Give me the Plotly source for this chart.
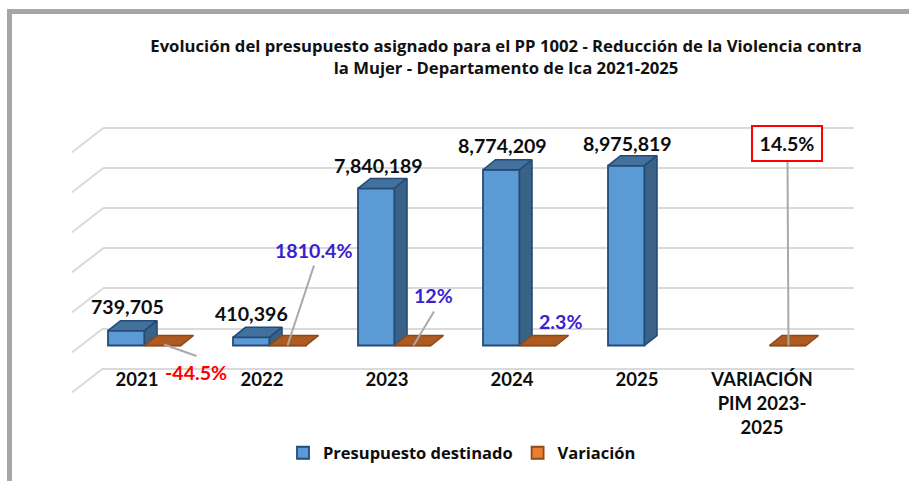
import plotly.graph_objects as go

years = ["2021", "2022", "2023", "2024", "2025", "VARIACIÓN<br>PIM 2023-<br>2025"]
budget = [739705, 410396, 7840189, 8774209, 8975819, None]
variation_pct = [-44.5, 1810.4, 12, 2.3, None, 14.5]
budget_labels = ["739,705", "410,396", "7,840,189", "8,774,209", "8,975,819", None]
variation_labels = ["-44.5%", "1810.4%", "12%", "2.3%", None, "14.5%"]
grid_values = [-2000000, 0, 2000000, 4000000, 6000000, 8000000, 10000000]

W, H = 909, 481
PX_PER_CAT = 125.0
PX_PER_UNIT = 20.03e-6
X0_PX, Y0_PX = 137.0, 345.5          # pixel of category 0 / value 0
GRID_L, GRID_R = 103.0, 854.0

def dx(px): return px / PX_PER_CAT
def dy(px): return px / PX_PER_UNIT

xr = [(GRID_L - X0_PX) / PX_PER_CAT, (GRID_R - X0_PX) / PX_PER_CAT]
yr = [(Y0_PX - H) / PX_PER_UNIT, Y0_PX / PX_PER_UNIT]

BAR_W = dx(36.5)
BAR_OFF = dx(-29)
VAR_OFF = dx(7.5)
DEPTH_X, DEPTH_Y = dx(12.5), dy(10)

idx = list(range(len(years)))
BLUE, BLUE_TOP, BLUE_SIDE, BLUE_LINE = "#5B9BD5", "#41719C", "#3A6186", "#264A78"
ORANGE, PLATE, PLATE_LINE = "#ED7D31", "#AE5A21", "#8C4A1A"
GRID = "#DADADA"
LEADER = "#A9A9A9"
INK = "#0D0D0D"
PCT_BLUE = "#3A1FD0"

fig = go.Figure()

# front faces and legend entries
fig.add_bar(x=idx, y=budget, name="Presupuesto destinado", width=BAR_W, offset=BAR_OFF,
            marker=dict(color=BLUE, line=dict(color=BLUE_LINE, width=1.8)))
fig.add_bar(x=idx, y=variation_pct, name="Variación",
            width=BAR_W, offset=VAR_OFF,
            marker=dict(color=ORANGE, line=dict(color=PLATE_LINE, width=1.8)))

def poly(xs, ys, color, line):
    fig.add_scatter(x=xs, y=ys, mode="lines", fill="toself", fillcolor=color,
                    line=dict(color=line, width=1.6), showlegend=False, hoverinfo="skip")

# depth faces of the budget bars
for i, v in zip(idx, budget):
    if v is None:
        continue
    l = i + BAR_OFF
    r = l + BAR_W
    poly([l, l + DEPTH_X, r + DEPTH_X, r, l], [v, v + DEPTH_Y, v + DEPTH_Y, v, v], BLUE_TOP, BLUE_LINE)
    poly([r, r + DEPTH_X, r + DEPTH_X, r, r], [v, v + DEPTH_Y, DEPTH_Y, 0, v], BLUE_SIDE, BLUE_LINE)

# flat plates of the variation series (percentages are negligible on the amount scale)
for i, v in zip(idx, variation_pct):
    if v is None:
        continue
    l = i + VAR_OFF
    r = l + BAR_W
    poly([l, l + DEPTH_X, r + DEPTH_X, r, l], [v, v + DEPTH_Y, v + DEPTH_Y, v, v], PLATE, PLATE_LINE)

# leader lines: category, x offset px from category, value, y offset px
leaders = [
    (0, 27, 1, 59.5, -10.5),
    (1, 25.5, 0, 52, 80),
    (2, 26.5, 0, 47, 34),
    (5, 26.5, 0, 25.5, 185),
]
for i, a, y1, b, up in leaders:
    fig.add_scatter(x=[i + dx(a), i + dx(b)], y=[dy(y1), dy(up)], mode="lines",
                    line=dict(color=LEADER, width=2), showlegend=False, hoverinfo="skip")

annos = []
def label(i, base, text, dxp, dyp, color, **kw):
    annos.append(dict(x=i, y=base, xref="x", yref="y", text=f"<b>{text}</b>", showarrow=False,
                      xshift=dxp, yshift=dyp, xanchor="center", yanchor="middle",
                      font=dict(family="Lato", size=19.6, color=color), **kw))

# budget labels, relative to the top of each bar
for i, (v, t, o) in enumerate(zip(budget, budget_labels, [(-10, 24), (-10.5, 24), (-9, 23), (-10, 24), (-10, 22)] + [None])):
    if t:
        label(i, v, t, o[0], o[1], INK)
# variation labels, relative to the floor
var_off = [(58.5, -27), (51.5, 95.5), (46, 50), (48, 24), None, (24.5, 202)]
var_col = ["#FF0000", PCT_BLUE, PCT_BLUE, PCT_BLUE, None, INK]
for i, t, o, c in zip(idx, variation_labels, var_off, var_col):
    if not t:
        continue
    extra = {}
    if i == 5:
        extra = dict(bordercolor="#FF0000", borderwidth=2, bgcolor="#FFFFFF", width=66, height=31)
    label(i, 0, t, o[0], o[1], c, **extra)

shapes = [
    dict(type="rect", xref="paper", yref="paper", x0=7/W, x1=12/W, y0=0, y1=1-9/H,
         fillcolor="#A6A6A6", line_width=0),
    dict(type="rect", xref="paper", yref="paper", x0=7/W, x1=1, y0=1-14/H, y1=1-9/H,
         fillcolor="#A6A6A6", line_width=0),
]
# side-wall gridlines
for g in grid_values:
    shapes.append(dict(type="line", xref="paper", yref="y", layer="below",
                       x0=GRID_L/W, x1=(GRID_L-31)/W, y0=g + dy(17), y1=g - dy(7),
                       line=dict(color=GRID, width=2)))

fig.update_layout(
    width=W, height=H, autosize=False,
    margin=dict(l=0, r=0, t=0, b=0, autoexpand=False),
    paper_bgcolor="white", plot_bgcolor="white",
    barmode="overlay",
    title=dict(text="<b>Evolución del presupuesto asignado para el PP 1002 - Reducción de la Violencia contra<br>la Mujer - Departamento de Ica 2021-2025</b>",
               x=506/W, y=1-52/H, xanchor="center", yanchor="middle",
               font=dict(family="Open Sans", size=16.7, color="#111111")),
    xaxis=dict(domain=[GRID_L/W, GRID_R/W], range=xr, tickmode="array", tickvals=idx, ticktext=[f"<b>{y}</b>" for y in years],
               anchor="free", position=1-366/H, showgrid=False, zeroline=False, showline=False, ticks="",
               tickfont=dict(family="Lato", size=18.5, color=INK), fixedrange=True),
    yaxis=dict(range=yr, tickmode="array", tickvals=[g + dy(17) for g in grid_values], showticklabels=False, showgrid=True,
               gridcolor=GRID, gridwidth=2, zeroline=False, showline=False, ticks="", fixedrange=True),
    legend=dict(orientation="h", x=283/W, y=1-453/H, xanchor="left", yanchor="middle",
                font=dict(family="Open Sans", size=16.5, color=INK, weight="bold"), traceorder="normal", bgcolor="rgba(0,0,0,0)"),
    annotations=annos,
    shapes=shapes,
    showlegend=True,
)
fig.write_html("out.html", config=dict(displayModeBar=False),
               post_script="document.body.style.margin='0';document.body.style.overflow='hidden';")
